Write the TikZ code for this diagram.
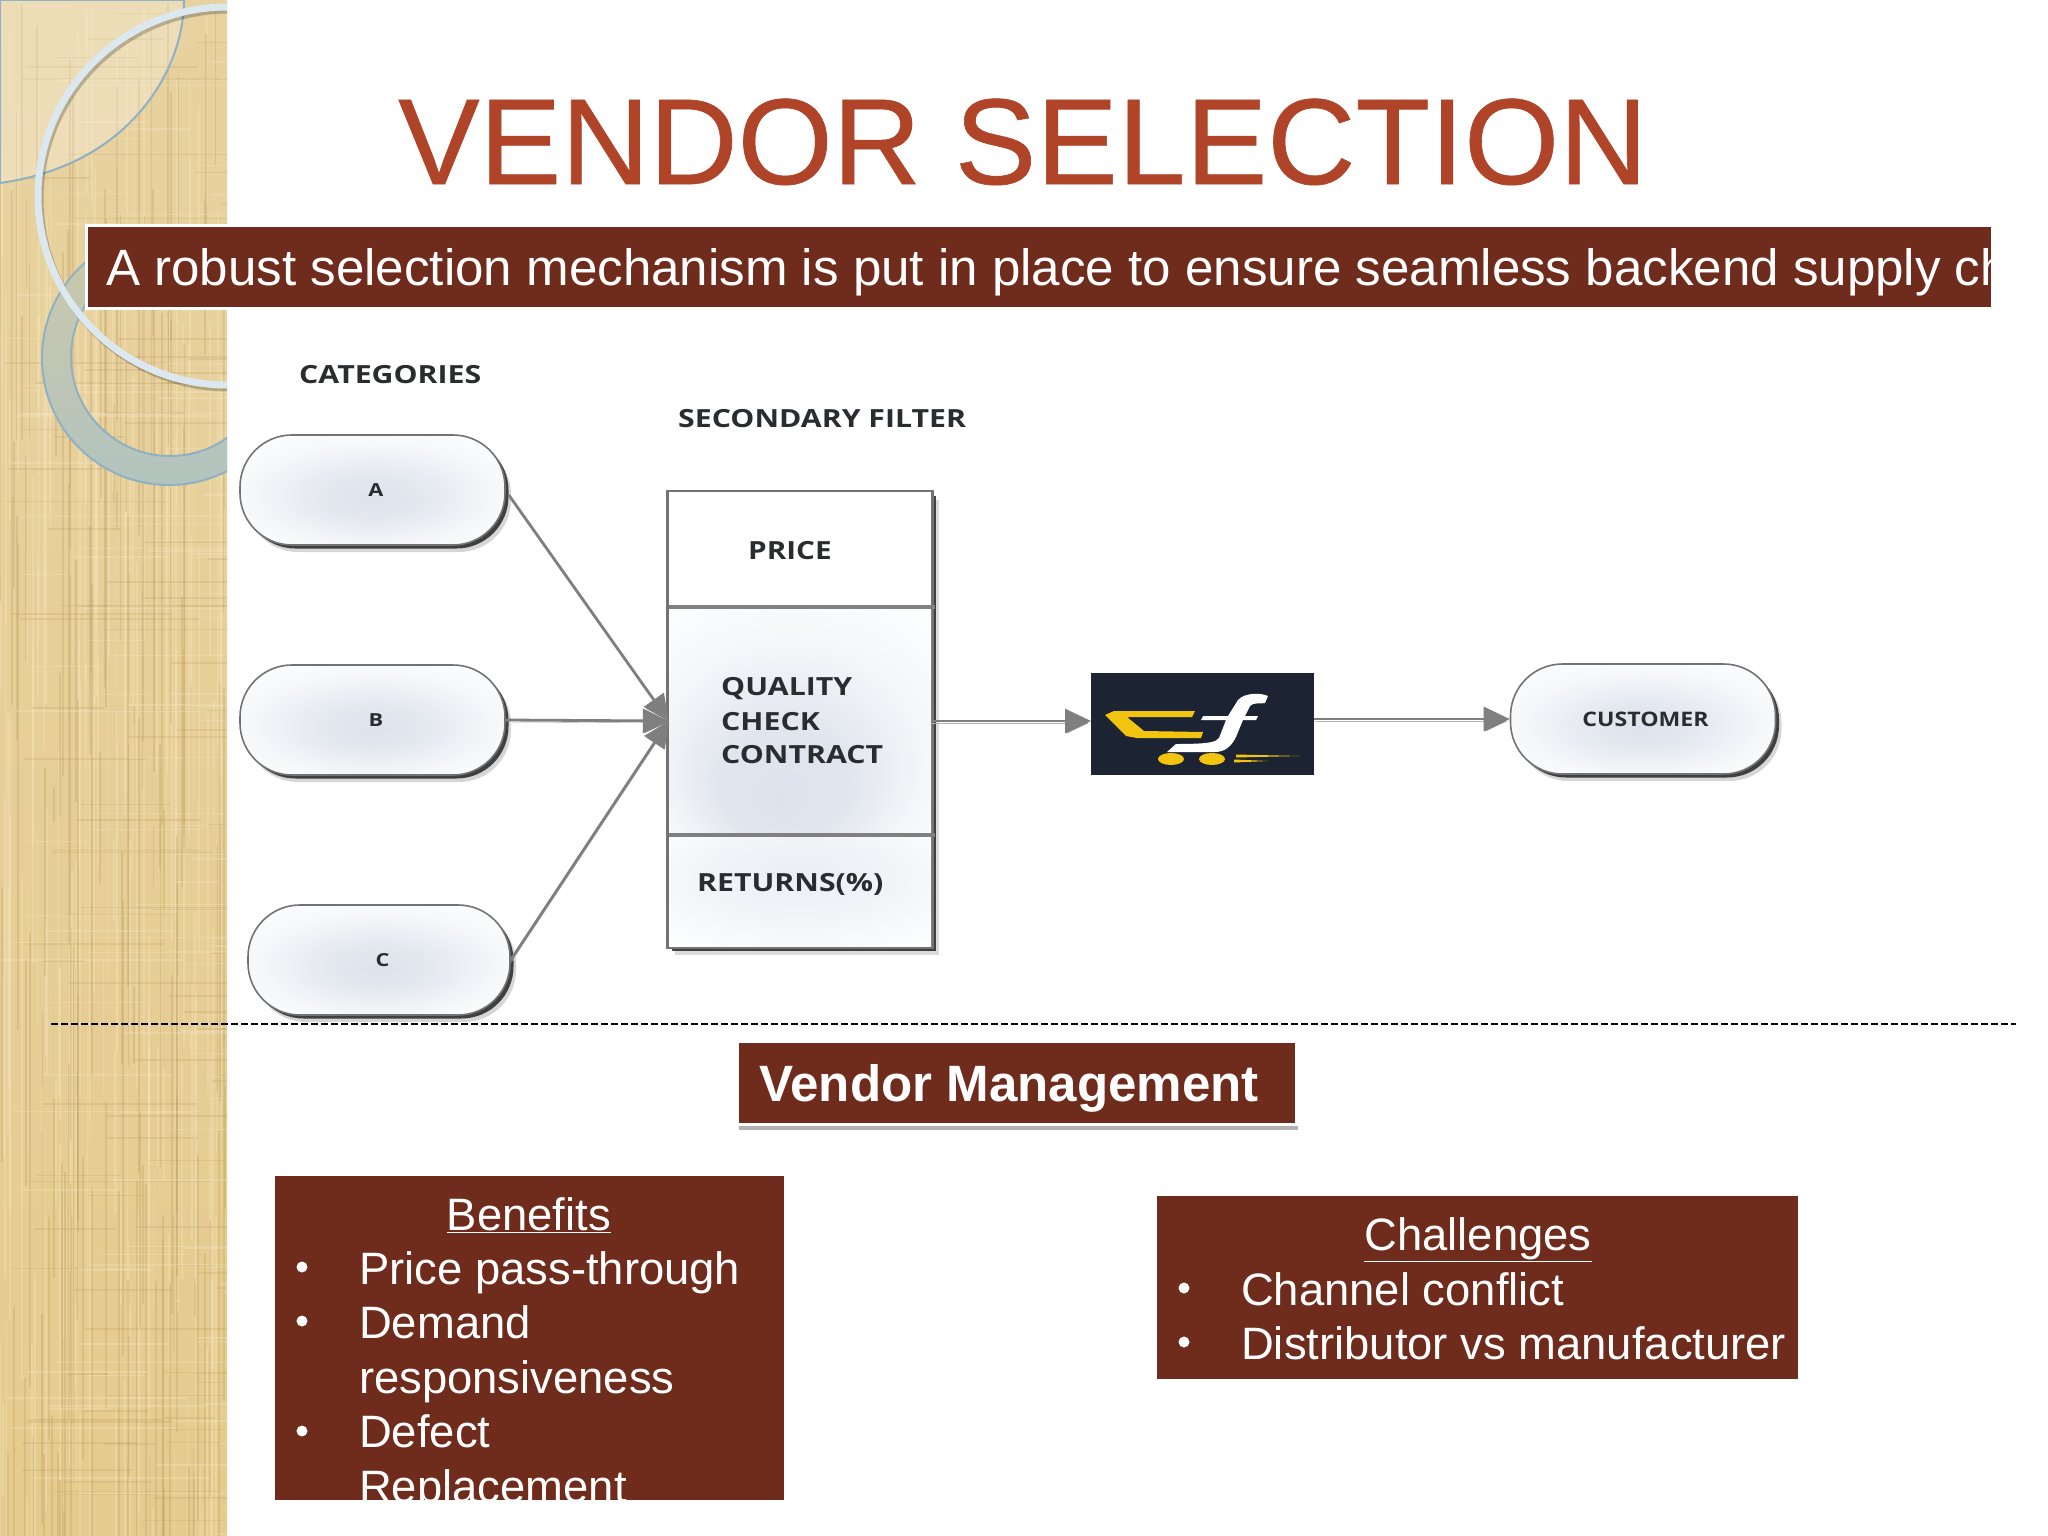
\documentclass[tikz,border=0pt]{standalone}
\usepackage{fontspec}
\usepackage{graphicx}
\setmainfont{Liberation Sans}
\newfontfamily\diagfont{Open Sans}
\newfontfamily\titlefont{Liberation Sans}[FakeBold=0.5]
\usetikzlibrary{arrows.meta,shadows,calc}
\definecolor{brick}{HTML}{6F2B1C}
\definecolor{titlered}{HTML}{AF4429}
\definecolor{inkdark}{HTML}{2A2D30}
\definecolor{softc}{HTML}{DDE3EC}
\definecolor{linegrey}{HTML}{7F7F7F}
\definecolor{logobg}{HTML}{1C2333}
\definecolor{logoy}{HTML}{F2C40F}
\definecolor{ringline}{HTML}{8FB1C2}
\pgfdeclareradialshading{softglow}{\pgfpoint{0bp}{-4bp}}{color(0bp)=(softc);color(10bp)=(softc!80!white);color(24bp)=(softc!25!white);color(36bp)=(white);color(50bp)=(white)}
\pgfdeclareradialshading{lowglow}{\pgfpoint{-4bp}{-18bp}}{color(0bp)=(softc);color(12bp)=(softc!90!white);color(26bp)=(softc!30!white);color(40bp)=(white);color(50bp)=(white)}
\pgfdeclareradialshading{faintglow}{\pgfpoint{0bp}{10bp}}{color(0bp)=(softc!60!white);color(18bp)=(softc!40!white);color(38bp)=(white);color(50bp)=(white)}
\newcommand{\fs}[1]{\fontsize{#1}{#1}\selectfont}
\newcommand{\wide}[1]{\scalebox{1.21}[1]{#1}}
\tikzset{
  capsule/.style={rectangle,rounded corners=52pt,minimum width=265pt,minimum height=110pt,inner sep=0pt,
    draw=black!55,line width=1.6pt,shading=softglow,
    drop shadow={shadow xshift=6pt,shadow yshift=-7pt,opacity=.16,fill=black},
    drop shadow={shadow xshift=3.5pt,shadow yshift=-3.5pt,opacity=.85,fill=black!85},
    font=\diagfont\bfseries\color{inkdark}},
  cell/.style={rectangle,minimum width=262pt,inner sep=0pt},
  difflabel/.style={anchor=west,inner sep=0pt,font=\diagfont\bfseries\color{inkdark}\fs{25}},
  divider/.style={draw=black!50,line width=4.5pt},
  link/.style={draw=linegrey,line width=2.8pt,-{Triangle[length=26pt,width=24pt,fill=linegrey]},
    preaction={draw=black!30,transform canvas={shift={(.5pt,-2pt)}}}},
  brickbox/.style={rectangle,fill=brick,inner sep=0pt},
  bluetext/.style={anchor=base west,inner sep=0pt,text=white,font=\fs{45.4}},
  headtext/.style={anchor=base,inner sep=0pt,text=white,font=\fs{45.4}},
  bulletmark/.style={circle,fill=white,minimum size=11pt,inner sep=0pt},
}
\begin{document}
\begin{tikzpicture}[x=1pt,y=-1pt]
\useasboundingbox (0,0) rectangle (2048,1536);
\fill[white] (0,0) rectangle (2048,1536);
% side strip
\fill[top color={rgb,255:red,231;green,210;blue,160},bottom color={rgb,255:red,230;green,203;blue,142}] (0,0) rectangle (227,1536);
\begin{scope}
\clip (0,0) rectangle (227,1536);
\pgfmathsetseed{11}
\foreach \i in {1,...,300}{
  \pgfmathsetmacro\xx{rnd*227}
  \pgfmathsetmacro\yy{rnd*1536}
  \pgfmathsetmacro\ll{120+rnd*420}
  \pgfmathsetmacro\cc{rnd}
  \ifdim\cc pt<.5pt
    \draw[line width=1.8pt,color={rgb,255:red,244;green,230;blue,190},opacity=.35] (\xx,\yy) -- ++(0,\ll);
  \else
    \draw[line width=1.8pt,color={rgb,255:red,190;green,158;blue,96},opacity=.3] (\xx,\yy) -- ++(0,\ll);
  \fi
}
\foreach \i in {1,...,220}{
  \pgfmathsetmacro\xx{rnd*227}
  \pgfmathsetmacro\yy{rnd*1536}
  \pgfmathsetmacro\ll{40+rnd*160}
  \pgfmathsetmacro\cc{rnd}
  \ifdim\cc pt<.5pt
    \draw[line width=1.5pt,color={rgb,255:red,246;green,232;blue,196},opacity=.3] (\xx,\yy) -- ++(\ll,0);
  \else
    \draw[line width=1.5pt,color={rgb,255:red,192;green,160;blue,100},opacity=.25] (\xx,\yy) -- ++(\ll,0);
  \fi
}
% lens at the top left
\path[fill=white,fill opacity=.25,draw=ringline,line width=2pt]
  (0,0) -- (184,0) .. controls (184,70) and (130,165) .. (0,183) -- cycle;
% lower ring
\path[even odd rule,top color={rgb,255:red,205;green,200;blue,170},bottom color={rgb,255:red,178;green,196;blue,190},draw=ringline,line width=2pt]
  (169,358) circle[radius=127] (170,357) circle[radius=99];
% upper ring
\draw[black,opacity=.22,line width=7pt] (229,199) circle[radius=189];
\draw[color={rgb,255:red,220;green,232;blue,240},line width=7pt] (227,196) circle[radius=189];
\end{scope}
% title
\node[anchor=base west,inner sep=0pt,text=titlered,font=\titlefont\fs{122.2}] (title) at (398,184) {VENDOR SELECTION};
% banner
\node[brickbox,draw=white,line width=3pt,minimum width=1906pt,minimum height=83pt,anchor=north west] (banner) at (85,223.5) {};
\begin{scope}
\clip (banner.north west) rectangle (banner.south east);
\node[anchor=base west,inner sep=0pt,text=white,font=\fs{51.1}] (bannertext) at (106,285) {A robust selection mechanism is put in place to ensure seamless backend supply ch};
\end{scope}
% captions
\node[inner sep=0pt,anchor=west,font=\diagfont\bfseries\color{inkdark}\fs{25}] (cats) at (299,375) {\wide{CATEGORIES}};
\node[inner sep=0pt,anchor=west,font=\diagfont\bfseries\color{inkdark}\fs{25}] (filtercap) at (678,419) {\wide{SECONDARY FILTER}};
% capsules
\node[capsule,font=\diagfont\bfseries\color{inkdark}\fs{18}] (a) at (372.5,490) {\hspace*{7pt}\wide{A}};
\node[capsule,font=\diagfont\bfseries\color{inkdark}\fs{18}] (b) at (372.5,720) {\hspace*{7pt}\wide{B}};
\node[capsule,minimum width=262pt,font=\diagfont\bfseries\color{inkdark}\fs{18}] (c) at (379,960) {\hspace*{7pt}\wide{C}};
\node[capsule,font=\diagfont\bfseries\color{inkdark}\fs{20}] (customer) at (1643,719) {\hspace*{5pt}\scalebox{1.155}[1]{CUSTOMER}};
% filter box
\node[rectangle,minimum width=264pt,minimum height=455pt,inner sep=0pt,fill=white,draw=black!55,line width=1.6pt,
  drop shadow={shadow xshift=7pt,shadow yshift=-8pt,opacity=.14,fill=black},
  drop shadow={shadow xshift=4pt,shadow yshift=-4pt,opacity=.85,fill=black!85}] (filter) at (800,719.5) {};
\node[cell,minimum height=115pt,fill=white] (price) at (800,549.5) {};
\node[cell,minimum height=228pt,shading=lowglow] (quality) at (800,721) {};
\node[cell,minimum height=112pt,shading=faintglow] (returns) at (800,891) {};
\draw[draw=black!55,line width=1.6pt] (filter.north west) rectangle (filter.south east);
\draw[divider] (quality.north west) -- ($(quality.north east)+(4,0)$);
\draw[divider] (quality.south west) -- ($(quality.south east)+(4,0)$);
\node[difflabel] (pricet) at (748,551) {\scalebox{1.185}[1]{PRICE}};
\node[difflabel] (q1) at (721,689) {\wide{QUALITY}};
\node[difflabel] (q2) at (721,722) {\wide{CHECK}};
\node[difflabel] (q3) at (721,755) {\wide{CONTRACT}};
\node[difflabel] (rett) at (697,884) {\wide{RETURNS(\%)}};
% logo
\node[rectangle,fill=logobg,minimum width=223pt,minimum height=102pt,inner sep=0pt,anchor=north west] (logo) at (1091,673) {};
\fill[logoy] (1105,715) -- (1114,711) -- (1195,711) -- (1192,717) -- (1127,717) -- (1144,731) -- (1203,732) -- (1201,738) -- (1137,738) -- (1126,736) -- cycle;
\fill[white] (1268,696) .. controls (1262,693) and (1245,692) .. (1238,700) -- (1228,716) -- (1203,716) -- (1201,720) -- (1226,720) -- (1219,738) .. controls (1216,742) and (1210,744) .. (1176,744) -- (1167,752) -- (1215,752) .. controls (1226,752) and (1232,745) .. (1236,737) -- (1243,720) -- (1256,720) -- (1258,716) -- (1245,716) -- (1250,706) .. controls (1253,702) and (1262,704) .. (1265,703) -- cycle;
\fill[logoy] (1171,759) ellipse[x radius=13,y radius=6];
\fill[logoy] (1212,759) ellipse[x radius=13,y radius=6];
\fill[logoy] (1236,754.5) -- (1300,756) -- (1236,757.5) -- cycle;
\fill[logoy] (1234,759.5) -- (1268,761) -- (1234,762.5) -- cycle;
% connectors
\draw[link] (a.east) ++(3,5) -- (quality.west);
\draw[link] (b.east) -- (quality.west);
\draw[link] (c.east) -- (quality.west);
\draw[link] (quality.east) -- (logo.west |- quality.east);
\draw[link] (logo.east |- customer.west) -- (customer.west);
% dashed divider
\coordinate (dashl) at (51,1024);
\coordinate (dashr) at (2016,1024);
\draw[black,line width=2.4pt,dash pattern=on 7pt off 3pt] (dashl) -- (dashr);
% vendor management
\node[brickbox,draw=white,line width=3pt,minimum width=559pt,minimum height=83pt,anchor=north west,
  drop shadow={shadow xshift=2pt,shadow yshift=-5pt,opacity=.3,fill=black}] (vm) at (735.5,1040) {};
\node[anchor=base west,inner sep=0pt,text=white,font=\bfseries\fs{51.1}] (vmt) at (759,1101) {Vendor Management};
% benefits
\node[brickbox,minimum width=509pt,minimum height=324pt,anchor=north west] (ben) at (275,1176) {};
\begin{scope}
\clip (ben.north west) rectangle (ben.south east);
\node[headtext] (bh) at (529,1230) {\underline{Benefits}};
\node[bluetext] (b1) at (359,1284) {Price pass-through};
\node[bluetext] (b2) at (359,1338) {Demand};
\node[bluetext] (b3) at (359,1393) {responsiveness};
\node[bluetext] (b4) at (359,1447) {Defect};
\node[bluetext] (b5) at (359,1502) {Replacement};
\node[bulletmark] (bb1) at (302,1267) {};
\node[bulletmark] (bb2) at (302,1321) {};
\node[bulletmark] (bb3) at (302,1431) {};
\end{scope}
% challenges
\node[brickbox,minimum width=641pt,minimum height=183pt,anchor=north west] (cha) at (1157,1196) {};
\node[headtext] (ch) at (1478,1250) {\underline{Challenges}};
\node[bluetext] (c1) at (1241,1305) {Channel conflict};
\node[bluetext] (c2) at (1241,1359) {Distributor vs manufacturer};
\node[bulletmark] (cb1) at (1184,1288) {};
\node[bulletmark] (cb2) at (1184,1342) {};
\end{tikzpicture}
\end{document}
